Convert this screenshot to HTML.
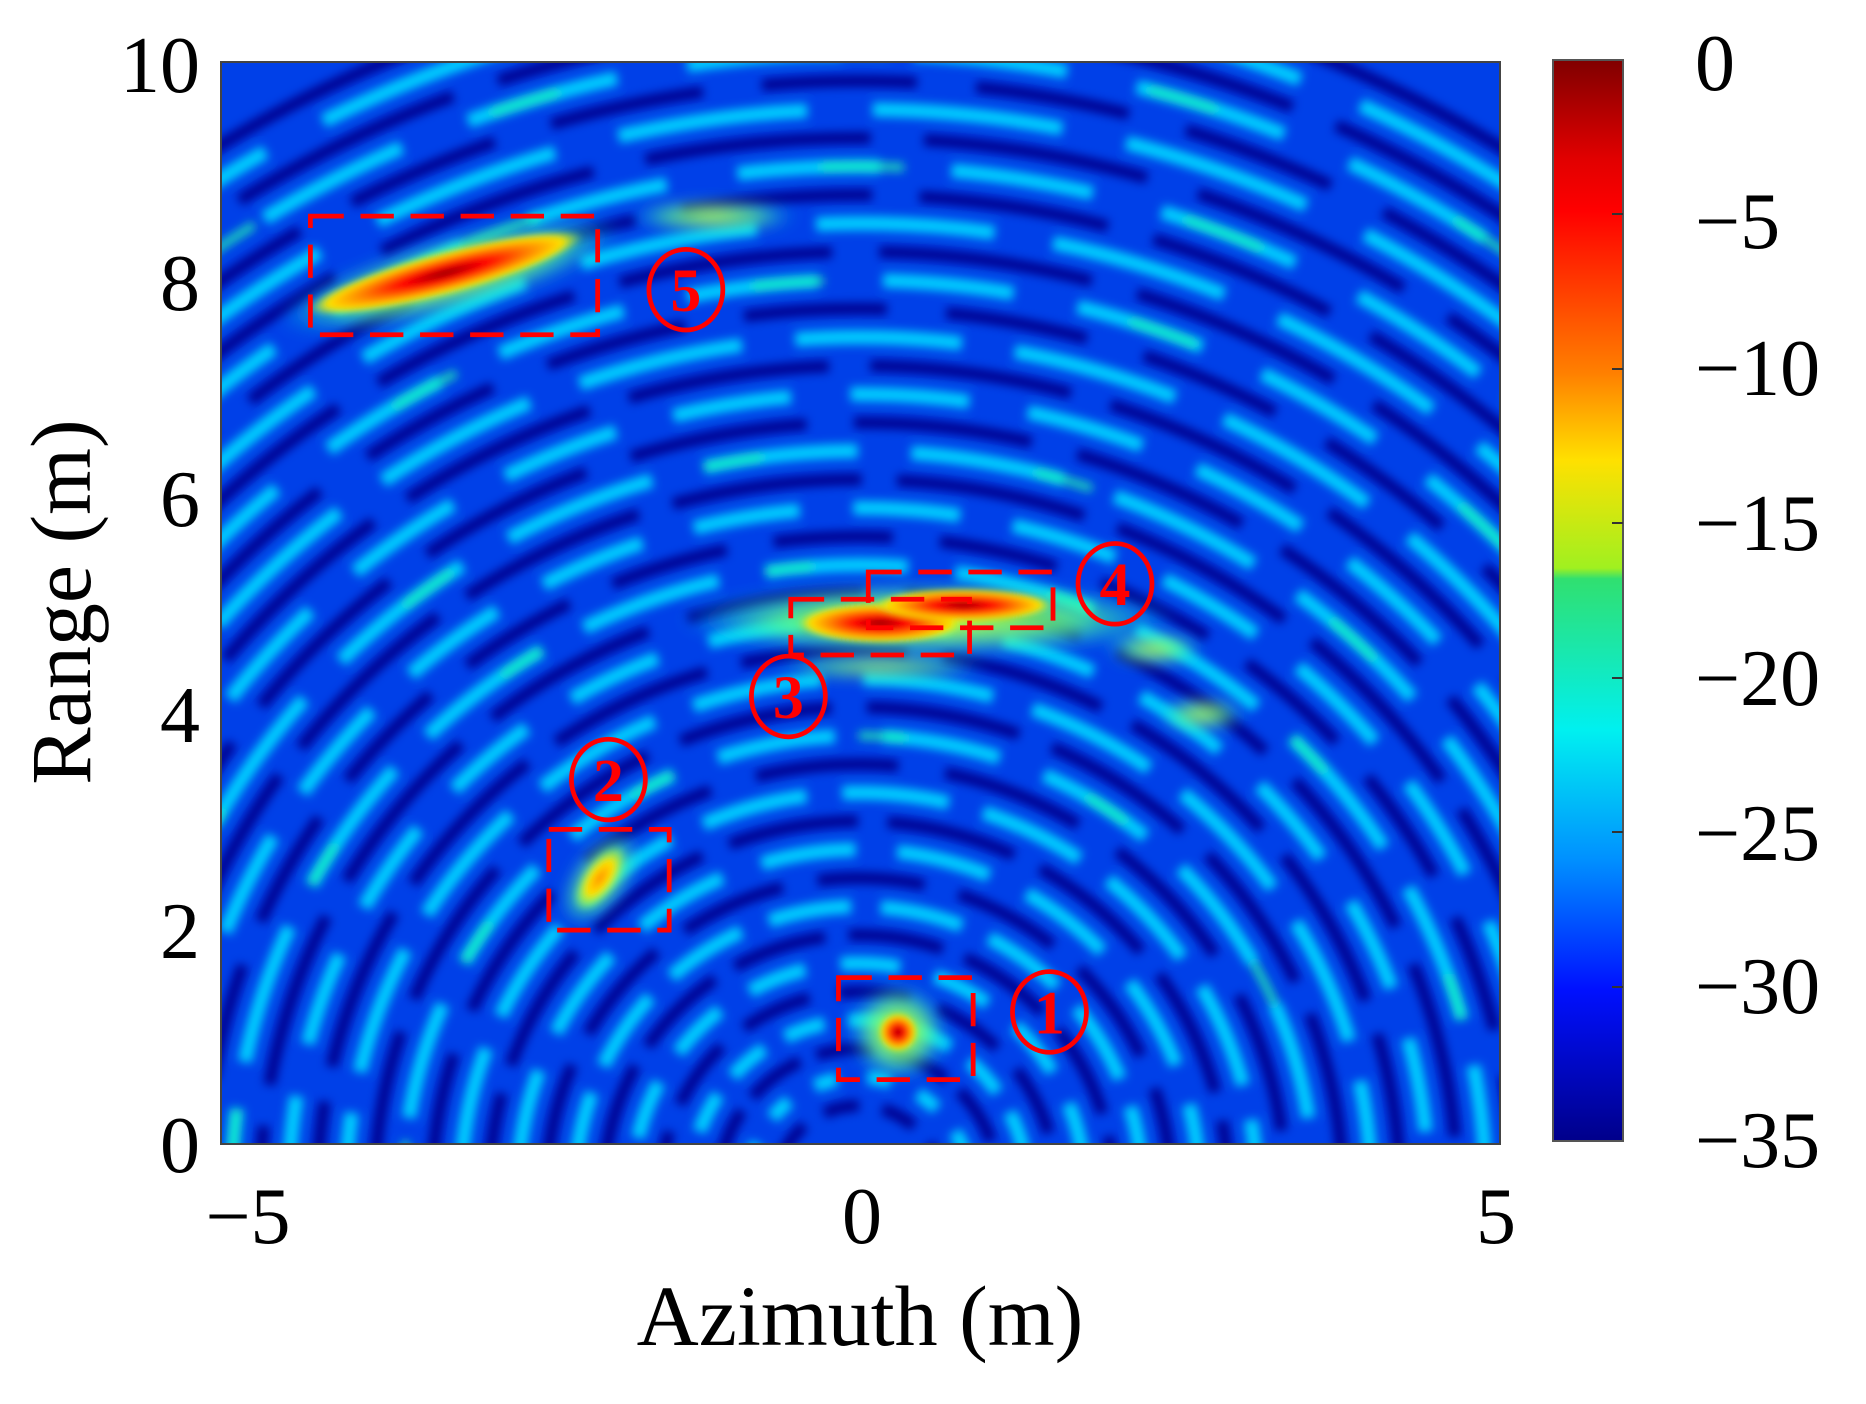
<!DOCTYPE html>
<html><head><meta charset="utf-8"><style>
html,body{margin:0;padding:0;background:#fff;overflow:hidden;width:1866px;height:1404px;}
svg{display:block}
text{font-family:"Liberation Serif",serif;fill:#000}
text.r{fill:#ff0000;font-weight:bold}
</style></head><body>
<svg width="1866" height="1404" viewBox="0 0 1866 1404" xmlns="http://www.w3.org/2000/svg">
<defs>
<clipPath id="cp"><rect x="221" y="62" width="1279" height="1082"/></clipPath>
<filter id="b3" x="-20%" y="-20%" width="140%" height="140%"><feGaussianBlur stdDeviation="4"/></filter>
<filter id="b6" x="-50%" y="-50%" width="200%" height="200%"><feGaussianBlur stdDeviation="7"/></filter>
<filter id="b2" x="-20%" y="-20%" width="140%" height="140%"><feGaussianBlur stdDeviation="2.5"/></filter>
<linearGradient id="jet" x1="0" y1="0" x2="0" y2="1">
<stop offset="0" stop-color="#800000"/>
<stop offset="0.09" stop-color="#e00000"/>
<stop offset="0.14" stop-color="#ff0000"/>
<stop offset="0.29" stop-color="#ff8000"/>
<stop offset="0.37" stop-color="#ffe000"/>
<stop offset="0.47" stop-color="#a0f020"/>
<stop offset="0.48" stop-color="#30e070"/>
<stop offset="0.62" stop-color="#00f0f0"/>
<stop offset="0.74" stop-color="#0090ff"/>
<stop offset="0.86" stop-color="#0010ff"/>
<stop offset="1" stop-color="#00008a"/>
</linearGradient>
<radialGradient id="hot">
<stop offset="0" stop-color="#900000"/>
<stop offset="0.3" stop-color="#ff0000"/>
<stop offset="0.6" stop-color="#ff8000"/>
<stop offset="0.85" stop-color="#ffe000"/>
<stop offset="1" stop-color="#a0ff40" stop-opacity="0"/>
</radialGradient>
<radialGradient id="warm">
<stop offset="0" stop-color="#ff9000"/>
<stop offset="0.5" stop-color="#ffe000"/>
<stop offset="1" stop-color="#80ff60" stop-opacity="0"/>
</radialGradient>
<radialGradient id="halo">
<stop offset="0" stop-color="#e0ff20"/>
<stop offset="0.6" stop-color="#60ff80" stop-opacity="0.8"/>
<stop offset="1" stop-color="#00ffff" stop-opacity="0"/>
</radialGradient>
</defs>

<g clip-path="url(#cp)">
<rect x="221" y="62" width="1279" height="1082" fill="#0040e8"/>
<g transform="translate(221,62) scale(1.192,1.186) translate(-187,-50)">
<g filter="url(#b3)" fill="none">
<g stroke="#000090" stroke-width="10">
<circle cx="722" cy="1000" r="70" stroke-dasharray="30 20"/>
<circle cx="722" cy="1000" r="118" stroke-dasharray="50 15"/>
<circle cx="722" cy="1000" r="166" stroke-dasharray="60 25"/>
<circle cx="722" cy="1000" r="214" stroke-dasharray="80 20"/>
<circle cx="722" cy="1000" r="262" stroke-dasharray="90 30"/>
<circle cx="722" cy="1000" r="310" stroke-dasharray="110 25"/>
<circle cx="722" cy="1000" r="358" stroke-dasharray="120 40"/>
<circle cx="722" cy="1000" r="406" stroke-dasharray="130 30"/>
<circle cx="722" cy="1000" r="454" stroke-dasharray="140 30"/>
<circle cx="722" cy="1000" r="502" stroke-dasharray="150 35"/>
<circle cx="722" cy="1000" r="550" stroke-dasharray="100 40"/>
<circle cx="722" cy="1000" r="598" stroke-dasharray="160 30"/>
<circle cx="722" cy="1000" r="646" stroke-dasharray="150 40"/>
<circle cx="722" cy="1000" r="694" stroke-dasharray="170 35"/>
<circle cx="722" cy="1000" r="742" stroke-dasharray="120 50"/>
<circle cx="722" cy="1000" r="790" stroke-dasharray="180 40"/>
<circle cx="722" cy="1000" r="838" stroke-dasharray="160 40"/>
<circle cx="722" cy="1000" r="886" stroke-dasharray="190 45"/>
<circle cx="722" cy="1000" r="934" stroke-dasharray="130 50"/>
<circle cx="722" cy="1000" r="982" stroke-dasharray="200 40"/>
<circle cx="722" cy="1000" r="1030"/>
</g>
<g stroke="#00d0ff" stroke-width="12">
<circle cx="722" cy="1000" r="94" stroke-dasharray="20 25"/>
<circle cx="722" cy="1000" r="142" stroke-dasharray="35 20"/>
<circle cx="722" cy="1000" r="190" stroke-dasharray="50 30"/>
<circle cx="722" cy="1000" r="238" stroke-dasharray="70 25"/>
<circle cx="722" cy="1000" r="286" stroke-dasharray="80 35"/>
<circle cx="722" cy="1000" r="334" stroke-dasharray="90 30"/>
<circle cx="722" cy="1000" r="382" stroke-dasharray="100 40"/>
<circle cx="722" cy="1000" r="430" stroke-dasharray="110 35"/>
<circle cx="722" cy="1000" r="478" stroke-dasharray="80 45"/>
<circle cx="722" cy="1000" r="526" stroke-dasharray="120 40"/>
<circle cx="722" cy="1000" r="574" stroke-dasharray="90 45"/>
<circle cx="722" cy="1000" r="622" stroke-dasharray="130 45"/>
<circle cx="722" cy="1000" r="670" stroke-dasharray="100 50"/>
<circle cx="722" cy="1000" r="718" stroke-dasharray="140 45"/>
<circle cx="722" cy="1000" r="766" stroke-dasharray="110 55"/>
<circle cx="722" cy="1000" r="814" stroke-dasharray="150 50"/>
<circle cx="722" cy="1000" r="862" stroke-dasharray="120 60"/>
<circle cx="722" cy="1000" r="910" stroke-dasharray="160 55"/>
<circle cx="722" cy="1000" r="958" stroke-dasharray="130 60"/>
<circle cx="722" cy="1000" r="1006" stroke-dasharray="170 55"/>
</g>
<g stroke="#20ffb0" stroke-width="7" opacity="0.8">
<circle cx="722" cy="1000" r="382" stroke-dasharray="40 160"/>
<circle cx="722" cy="1000" r="526" stroke-dasharray="40 200"/>
<circle cx="722" cy="1000" r="622" stroke-dasharray="50 230"/>
<circle cx="722" cy="1000" r="766" stroke-dasharray="60 260"/>
<circle cx="722" cy="1000" r="862" stroke-dasharray="70 240"/>
<circle cx="722" cy="1000" r="958" stroke-dasharray="60 220"/>
</g>
</g>
<!-- target glows -->
<g filter="url(#b6)">
<ellipse cx="780" cy="520" rx="210" ry="30" fill="url(#halo)"/>
<ellipse cx="380" cy="230" rx="150" ry="30" fill="url(#halo)" transform="rotate(-15 380 230)"/>
<ellipse cx="600" cy="180" rx="70" ry="12" fill="url(#halo)"/>
<ellipse cx="505" cy="738" rx="45" ry="22" fill="url(#halo)" transform="rotate(-55 505 738)"/>
<ellipse cx="755" cy="868" rx="40" ry="40" fill="url(#halo)"/>
<ellipse cx="970" cy="545" rx="40" ry="12" fill="url(#halo)"/>
<ellipse cx="1010" cy="600" rx="35" ry="12" fill="url(#halo)"/>
<ellipse cx="740" cy="560" rx="90" ry="8" fill="url(#halo)"/>
</g>
<g filter="url(#b2)">
<ellipse cx="375" cy="228" rx="120" ry="18" fill="url(#hot)" transform="rotate(-15 375 228)"/>
<ellipse cx="740" cy="523" rx="70" ry="17" fill="url(#hot)"/>
<ellipse cx="810" cy="508" rx="75" ry="14" fill="url(#hot)"/>
<ellipse cx="505" cy="738" rx="32" ry="14" fill="url(#warm)" transform="rotate(-55 505 738)"/>
<ellipse cx="755" cy="868" rx="16" ry="16" fill="url(#hot)"/>
</g>
<!-- boxes -->
<g fill="none" stroke="#ff0000" stroke-width="4" stroke-dasharray="28 14">
<rect x="262" y="180" width="241" height="100"/>
<rect x="730" y="480" width="155" height="47"/>
<rect x="665" y="503" width="150" height="47"/>
<rect x="462" y="697" width="101" height="85"/>
<rect x="705" y="822" width="113" height="86"/>
</g>
<g fill="none" stroke="#ff0000" stroke-width="4">
<ellipse cx="577" cy="242" rx="31" ry="34"/>
<ellipse cx="937" cy="490" rx="31" ry="34"/>
<ellipse cx="663" cy="585" rx="31" ry="34"/>
<ellipse cx="512" cy="655" rx="31" ry="34"/>
<ellipse cx="882" cy="851" rx="31" ry="34"/>
</g>
<g font-size="52" text-anchor="middle">
<text class="r" x="577" y="260">5</text>
<text class="r" x="937" y="508">4</text>
<text class="r" x="663" y="603">3</text>
<text class="r" x="512" y="673">2</text>
<text class="r" x="882" y="869">1</text>
</g>
</g>
</g>
<rect x="221" y="62" width="1279" height="1082" fill="none" stroke="#444" stroke-width="2"/>

<!-- colorbar -->
<rect x="1553" y="60" width="70" height="1081" fill="url(#jet)" stroke="#555" stroke-width="2"/>
<g stroke="#333" stroke-width="2">
<line x1="1612" y1="214" x2="1623" y2="214"/><line x1="1612" y1="369" x2="1623" y2="369"/>
<line x1="1612" y1="523" x2="1623" y2="523"/><line x1="1612" y1="678" x2="1623" y2="678"/>
<line x1="1612" y1="832" x2="1623" y2="832"/><line x1="1612" y1="987" x2="1623" y2="987"/>
</g>
<g font-size="80">
<text x="1695" y="90">0</text>
<text x="1695" y="248">−5</text>
<text x="1695" y="395">−10</text>
<text x="1695" y="550">−15</text>
<text x="1695" y="705">−20</text>
<text x="1695" y="860">−25</text>
<text x="1695" y="1013">−30</text>
<text x="1695" y="1167">−35</text>
</g>
<g font-size="80" text-anchor="end">
<text x="200" y="92">10</text>
<text x="200" y="310">8</text>
<text x="200" y="526">6</text>
<text x="200" y="742">4</text>
<text x="200" y="958">2</text>
<text x="200" y="1172">0</text>
</g>
<g font-size="80" text-anchor="middle">
<text x="248" y="1243">−5</text>
<text x="862" y="1243">0</text>
<text x="1496" y="1243">5</text>
<text x="860" y="1345" font-size="86">Azimuth (m)</text>
<text x="0" y="0" font-size="86" transform="translate(90,602) rotate(-90)">Range (m)</text>
</g>
</svg>
</body></html>
